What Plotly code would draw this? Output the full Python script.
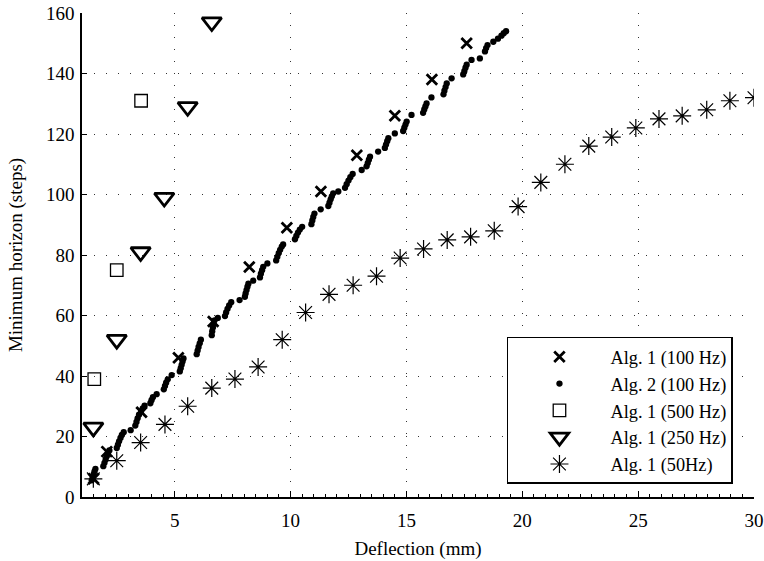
import plotly.graph_objects as go

# Alg. 1 (100 Hz)
a1_100_x = [1.5, 2.07, 3.57, 5.16, 6.66, 8.22, 9.84, 11.31, 12.86, 14.5, 16.1, 17.6]
a1_100_y = [6, 15, 28, 46, 58, 76, 89, 101, 113, 126, 138, 150]

# Alg. 2 (100 Hz)
a2_100_x = [1.42, 1.46, 1.5, 1.54, 1.58,
            1.92, 1.97, 2.02, 2.07, 2.12, 2.18,
            2.5, 2.55, 2.6, 2.66, 2.72, 2.8,
            3.1,
            3.3, 3.35, 3.4, 3.46,
            3.55, 3.62, 3.7, 3.95, 4.0, 4.06,
            4.22,
            4.53, 4.58, 4.63, 4.7,
            4.87,
            5.22, 5.26, 5.3, 5.34, 5.38,
            5.95, 5.99, 6.03, 6.08, 6.13,
            6.6, 6.62, 6.65, 6.68, 6.72,
            6.86,
            7.17, 7.22, 7.28, 7.35, 7.44,
            7.8,
            8.03, 8.06, 8.1, 8.14, 8.18,
            8.39,
            8.68, 8.72, 8.77, 8.82,
            9.0,
            9.38, 9.43, 9.49, 9.55, 9.62, 9.68,
            10.19, 10.25, 10.32, 10.4, 10.5,
            10.9, 10.94, 10.98, 11.03,
            11.3,
            11.63, 11.68, 11.73, 11.78, 11.84,
            12.06,
            12.35, 12.42, 12.5, 12.58, 12.68,
            13.07,
            13.28, 13.33, 13.38, 13.43,
            13.78,
            14.07, 14.12, 14.17, 14.22,
            14.5,
            14.86, 14.91, 14.96, 15.01,
            15.22,
            15.72, 15.77, 15.82, 15.87,
            16.08,
            16.6, 16.64, 16.69, 16.74,
            16.95,
            17.45, 17.5, 17.55, 17.6,
            17.81,
            18.17,
            18.39, 18.44, 18.5,
            18.75, 18.95, 19.1, 19.2, 19.3]
a2_100_y = [5.5, 6.5, 7.5, 8.5, 9.3,
            10.2, 11.3, 12.4, 13.5, 14.5, 15.4,
            16.2, 17.3, 18.4, 19.5, 20.5, 21.4,
            22.1,
            23.6, 24.8, 26.0, 27.2,
            28.4, 29.3, 30.2, 31.0, 32.0, 33.0,
            34.0,
            35.6, 36.7, 37.8, 38.9,
            40.3,
            41.5, 42.6, 43.7, 44.8, 45.8,
            47.2, 48.4, 49.6, 50.8, 52.0,
            53.5, 54.8, 56.0, 57.2, 58.4,
            59.2,
            59.8, 61.0, 62.2, 63.3, 64.4,
            65.1,
            66.2, 67.3, 68.4, 69.5, 70.5,
            71.5,
            72.6, 73.8, 75.0, 76.1,
            77.2,
            78.2, 79.4, 80.6, 81.7, 82.8, 83.5,
            85.2, 86.3, 87.4, 88.4, 89.3,
            90.2, 91.4, 92.6, 93.7,
            95.1,
            96.2, 97.3, 98.4, 99.4, 100.4,
            101.0,
            102.2, 103.4, 104.6, 105.7, 106.8,
            108.1,
            109.3, 110.4, 111.5, 112.5,
            114.2,
            115.4, 116.5, 117.6, 118.6,
            120.2,
            121.0, 122.1, 123.1, 124.1,
            126.3,
            127.0, 128.1, 129.1, 130.1,
            132.1,
            133.1, 134.3, 135.5, 136.7,
            138.4,
            139.7, 140.8, 141.9, 142.9,
            144.5,
            145.0,
            147.3, 148.4, 149.4,
            150.5, 151.5, 152.5, 153.3, 154.0]

# Alg. 1 (500 Hz)
a1_500_x = [1.53, 2.5, 3.55]
a1_500_y = [39, 75, 131]

# Alg. 1 (250 Hz)
a1_250_x = [1.49, 2.5, 3.53, 4.55, 5.56, 6.6]
a1_250_y = [23, 52, 81, 99, 129, 157]

# Alg. 1 (50Hz)
a1_50_x = [1.49, 2.5, 3.53, 4.58, 5.56, 6.6, 7.6, 8.6, 9.64, 10.65, 11.66, 12.7,
           13.71, 14.73, 15.74, 16.76, 17.77, 18.79, 19.82, 20.8, 21.84, 22.87,
           23.86, 24.9, 25.9, 26.9, 27.96, 28.96, 30.0]
a1_50_y = [6, 12, 18, 24, 30, 36, 39, 43, 52, 61, 67, 70, 73, 79, 82, 85, 86, 88,
           96, 104, 110, 116, 119, 122, 125, 126, 128, 131, 132]

x_ticks = [5, 10, 15, 20, 25, 30]
y_ticks = [0, 20, 40, 60, 80, 100, 120, 140, 160]

FONT = "Liberation Serif"
FS = 19
fig = go.Figure()
fig.add_trace(go.Scatter(x=a1_100_x, y=a1_100_y, mode="markers", name="Alg. 1 (100 Hz)",
                         marker=dict(symbol="x-thin-open", size=10.5, color="black",
                                     line=dict(width=2.8, color="black"))))
fig.add_trace(go.Scatter(x=a2_100_x, y=a2_100_y, mode="markers", name="Alg. 2 (100 Hz)",
                         marker=dict(symbol="circle", size=6.3, color="black")))
fig.add_trace(go.Scatter(x=a1_500_x, y=a1_500_y, mode="markers", name="Alg. 1 (500 Hz)",
                         marker=dict(symbol="square-open", size=12.5, color="black",
                                     line=dict(width=1.3, color="black"))))
fig.add_trace(go.Scatter(x=a1_250_x, y=a1_250_y, mode="markers", name="Alg. 1 (250 Hz)",
                         marker=dict(symbol="triangle-down-open", size=17, color="black",
                                     line=dict(width=2.8, color="black"))))
fig.add_trace(go.Scatter(x=a1_50_x, y=a1_50_y, mode="markers", name="Alg. 1 (50Hz)",
                         marker=dict(symbol="asterisk-open", size=15, color="black",
                                     line=dict(width=1.2, color="black"))))

fig.update_layout(
    width=764, height=561,
    margin=dict(l=82, r=10, t=13, b=64, autoexpand=False),
    paper_bgcolor="white", plot_bgcolor="white",
    font=dict(family=FONT, size=FS, color="black"),
    showlegend=True,
    legend=dict(x=0.9687, y=0.027, xanchor="right", yanchor="bottom",
                bgcolor="white", bordercolor="black", borderwidth=1.5,
                itemwidth=92,
                font=dict(family=FONT, size=18.3, color="black")),
)
fig.update_xaxes(
    range=[1, 30], tickvals=x_ticks, ticktext=[str(v) for v in x_ticks],
    showline=True, linecolor="black", linewidth=1.5, mirror=False,
    ticks="inside", ticklen=6, tickcolor="black", tickwidth=1,
    ticklabelstandoff=5, automargin=False,
    minor=dict(dtick=0.5, tick0=0, ticks="inside", ticklen=3, tickcolor="black", showgrid=False),
    showgrid=True, gridcolor="#333333", gridwidth=1, griddash="1px,11px",
    zeroline=False,
    title=dict(text="Deflection (mm)", font=dict(family=FONT, size=FS), standoff=12),
    tickfont=dict(family=FONT, size=FS),
)
fig.update_yaxes(
    range=[0, 160], tickvals=y_ticks, ticktext=[str(v) for v in y_ticks],
    showline=True, linecolor="black", linewidth=1.5, mirror=False,
    ticks="inside", ticklen=5, tickcolor="black", tickwidth=1,
    ticklabelstandoff=2, automargin=False,
    showgrid=True, gridcolor="#333333", gridwidth=1, griddash="1px,11px",
    zeroline=False,
    title=dict(text="Minimum horizon (steps)", font=dict(family=FONT, size=FS), standoff=18),
    tickfont=dict(family=FONT, size=FS),
)

fig.write_html("out.html")
